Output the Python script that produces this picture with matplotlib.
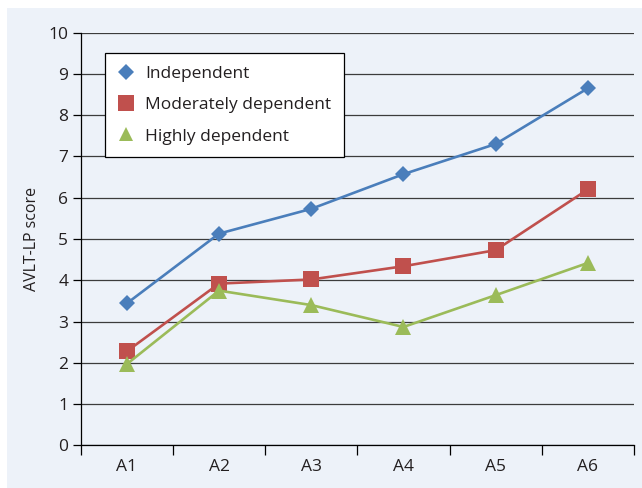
import matplotlib.pyplot as plt
from matplotlib.patches import Rectangle
from matplotlib.lines import Line2D

plt.rcParams['font.family'] = ['Open Sans', 'DejaVu Sans']

# AVLT-LP scores by assessment, per dependency group
sessions = ['A1', 'A2', 'A3', 'A4', 'A5', 'A6']
independent = [3.44, 5.13, 5.73, 6.57, 7.30, 8.65]
moderately = [2.28, 3.92, 4.02, 4.34, 4.73, 6.20]
highly = [1.97, 3.75, 3.40, 2.87, 3.64, 4.42]

bg = '#edf2f9'
text_col = '#231f20'

fig = plt.figure(figsize=(6.42, 4.88), dpi=100, facecolor='white')
fig.patches.append(Rectangle((7 / 642, 0), 1, 480 / 488, transform=fig.transFigure,
                             facecolor=bg, edgecolor='none', zorder=-1))
ax = fig.add_axes([0.1257, 0.0871, 0.8618, 0.8463])
ax.set_facecolor(bg)

x = list(range(len(sessions)))
series = [
    (independent, 'Independent', '#4a7ebb', 'D', 8.5),
    (moderately, 'Moderately dependent', '#c0504d', 's', 12),
    (highly, 'Highly dependent', '#9bbb59', '^', 11.5),
]
handles = []
for vals, name, col, mk, ms in series:
    ax.plot(x, vals, color=col, lw=1.9, marker=mk, markersize=ms,
            markeredgewidth=0, zorder=3)
    handles.append(Line2D([], [], linestyle='none', marker=mk, color=col,
                          markersize=ms * 0.93, markeredgewidth=0, label=name))

ax.set_xlim(-0.5, len(sessions) - 0.5)
ax.set_ylim(0, 10)
ax.set_yticks(range(0, 11))
ax.yaxis.grid(True, color='#3c3c3c', lw=0.9)
ax.set_axisbelow(True)

ax.set_xticks(x)
ax.set_xticklabels(sessions)
ax.set_xticks([i - 0.5 for i in range(len(sessions) + 1)], minor=True)
ax.tick_params(axis='x', which='major', length=0, pad=10, labelsize=12.5, labelcolor=text_col)
ax.tick_params(axis='x', which='minor', length=7, width=0.9, direction='out')
ax.tick_params(axis='y', length=6, width=0.9, pad=3, labelsize=12.5, labelcolor=text_col)

for side in ['top', 'right']:
    ax.spines[side].set_visible(False)
for side in ['left', 'bottom']:
    ax.spines[side].set_linewidth(0.9)
    ax.spines[side].set_color('black')

ax.set_ylabel('AVLT-LP score', fontsize=11.5, color=text_col, labelpad=6)

leg = ax.legend(handles=handles, loc='upper left', bbox_to_anchor=(105 / 642, 1 - 53 / 488),
                bbox_transform=fig.transFigure, fontsize=12.5, frameon=True, fancybox=False,
                edgecolor='black', framealpha=1, handlelength=1.0, handletextpad=0.6,
                labelspacing=0.88, borderpad=0.72, borderaxespad=0)
leg.get_frame().set_linewidth(0.9)
for t in leg.get_texts():
    t.set_color(text_col)

fig.savefig('out.png', dpi=100, facecolor=fig.get_facecolor())
